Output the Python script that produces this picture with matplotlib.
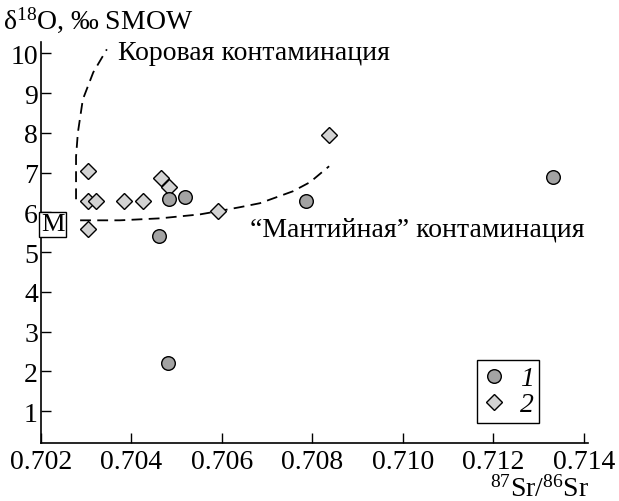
import matplotlib.pyplot as plt
from matplotlib.lines import Line2D
from matplotlib import rcParams

rcParams.update({'font.family': 'Liberation Serif', 'font.size': 20,
                 'mathtext.fontset': 'custom', 'mathtext.rm': 'Liberation Serif',
                 'mathtext.it': 'Liberation Serif:italic'})

#-Group 1 (circles)
sr_1 = [0.70483, 0.70519, 0.70461, 0.70481, 0.70786, 0.71332]
o18_1 = [6.33, 6.38, 5.40, 2.20, 6.28, 6.90]

#-Group 2 (diamonds)
sr_2 = [0.70304, 0.70304, 0.70322, 0.70304, 0.70384, 0.70426, 0.70466, 0.70483, 0.70592, 0.70837]
o18_2 = [7.05, 6.28, 6.28, 5.57, 6.28, 6.28, 6.87, 6.63, 6.03, 7.95]

#-Contamination trends
crust_sr = [0.70278, 0.70278, 0.70282, 0.70293, 0.70316, 0.70346]
crust_o18 = [6.33, 7.40, 8.00, 8.84, 9.52, 10.10]
mantle_sr = [0.70287, 0.70375, 0.70464, 0.70552, 0.70592, 0.70640, 0.70684, 0.70757, 0.70795, 0.70837]
mantle_o18 = [5.80, 5.80, 5.85, 5.95, 6.03, 6.13, 6.23, 6.53, 6.76, 7.16]

#-Mantle value
m_sr, m_o18 = 0.70200, 5.70

xticks = [0.702, 0.704, 0.706, 0.708, 0.710, 0.712, 0.714]
yticks = [1, 2, 3, 4, 5, 6, 7, 8, 9, 10]

fig = plt.figure(figsize=(6.19, 5.02), dpi=100, facecolor='w')
ax = fig.add_axes([0.0658, 0.1155, 0.8842, 0.7985])

ax.plot(crust_sr, crust_o18, color='k', lw=1.3, dashes=(6, 3.5))
ax.plot(mantle_sr, mantle_o18, color='k', lw=1.3, dashes=(6, 3.5))

ax.plot(sr_2, o18_2, ls='none', marker='D', ms=7.8, mfc='#d3d3d3', mec='k', mew=1.0)
ax.plot(sr_1, o18_1, ls='none', marker='o', ms=9.8, mfc='#a3a3a3', mec='k', mew=1.0)

ax.text(m_sr, m_o18, 'M', ha='left', va='center', fontsize=19,
        bbox=dict(boxstyle='square,pad=0.06', fc='w', ec='k', lw=1.0))
ax.text(0.70371, 10.03, 'Коровая контаминация', ha='left', va='center')
ax.text(0.71402, 5.58, '“Мантийная” контаминация', ha='right', va='center')

ax.set_xlim(0.702, 0.71409)
ax.set_ylim(0.2, 10.28)
ax.set_xticks(xticks)
ax.set_xticklabels(['%.3f' % v for v in xticks])
ax.set_yticks(yticks)
ax.tick_params(direction='in', length=7, width=1.0, pad=4)
ax.tick_params(axis='y', pad=2)
for s in ['top', 'right']:
    ax.spines[s].set_visible(False)
for s in ['left', 'bottom']:
    ax.spines[s].set_linewidth(1.2)

fig.text(0.005, 0.943, r'δ$^{18}$O, ‰ SMOW', ha='left', va='baseline')
fig.text(0.952, 0.01, r'$^{87}$Sr/$^{86}$Sr', ha='right', va='baseline')

handles = [Line2D([], [], ls='none', marker='o', ms=9.8, mfc='#a3a3a3', mec='k', mew=1.0),
           Line2D([], [], ls='none', marker='D', ms=7.8, mfc='#d3d3d3', mec='k', mew=1.0)]
leg = ax.legend(handles, ['1', '2'], loc='lower left', bbox_to_anchor=(0.797, 0.05),
                prop={'style': 'italic', 'size': 20}, handlelength=0.8, handletextpad=0.55,
                borderpad=0.2, labelspacing=0.02, borderaxespad=0, fancybox=False,
                framealpha=1, edgecolor='k')
leg.get_frame().set_linewidth(1.0)

plt.savefig('out.png', dpi=100)
